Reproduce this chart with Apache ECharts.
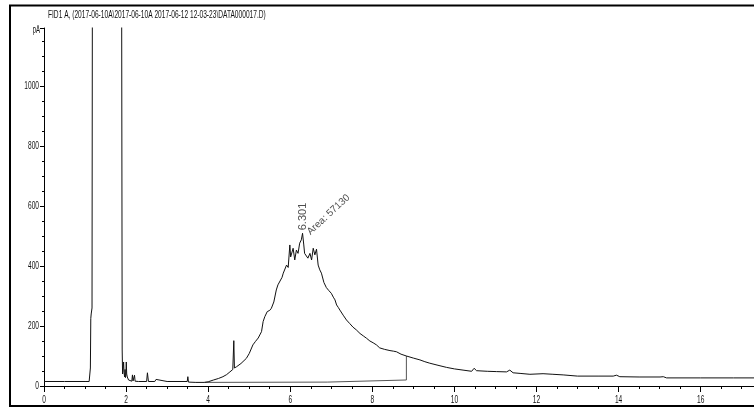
<!DOCTYPE html>
<html>
<head>
<meta charset="utf-8">
<script src="https://cdn.jsdelivr.net/npm/echarts@6/dist/echarts.min.js"></script>
<style>
  html, body { margin: 0; padding: 0; background: #fff; }
  #chart { width: 754px; height: 408px; }
</style>
</head>
<body>
<div id="chart"></div>
<script>
// FID1 A signal trace, retention time (min) vs detector current (pA)
const titleText = 'FID1 A, (2017-06-10A\\2017-06-10A 2017-06-12 12-03-23\\DATA000017.D)';
const yUnit = 'pA';

const times = [
  0.00, 0.50, 1.00, 1.10, 1.12, 1.13, 1.14, 1.15, 1.16, 1.17, 1.18, 1.89, 1.905, 1.915,
  1.93, 1.94, 1.95, 1.965, 1.975, 1.985, 1.995, 2.005, 2.015, 2.03, 2.045, 2.06, 2.08,
  2.14, 2.155, 2.17, 2.19, 2.205, 2.22, 2.30, 2.50, 2.52, 2.545, 2.70, 2.73, 2.76, 3.00,
  3.49, 3.505, 3.52, 3.70, 3.90, 4.00, 4.13, 4.25, 4.36, 4.45, 4.53, 4.60, 4.625, 4.64,
  4.69, 4.80, 4.93, 5.00, 5.09, 5.15, 5.22, 5.30, 5.34, 5.38, 5.44, 5.50, 5.54, 5.60,
  5.66, 5.70, 5.74, 5.80, 5.83, 5.87, 5.91, 5.95, 5.99, 6.01, 6.03, 6.07, 6.11, 6.15,
  6.19, 6.23, 6.27, 6.30, 6.33, 6.35, 6.39, 6.43, 6.48, 6.52, 6.56, 6.60, 6.64, 6.66,
  6.68, 6.72, 6.76, 6.82, 6.88, 6.94, 7.00, 7.05, 7.09, 7.13, 7.17, 7.21, 7.29, 7.33,
  7.37, 7.45, 7.53, 7.57, 7.61, 7.70, 7.78, 7.82, 7.86, 7.94, 8.02, 8.10, 8.18, 8.30,
  8.43, 8.52, 8.59, 8.70, 8.83, 9.00, 9.16, 9.28, 9.40, 9.60, 9.81, 10.00, 10.21, 10.42,
  10.48, 10.54, 10.80, 11.03, 11.27, 11.35, 11.43, 11.60, 11.84, 12.16, 12.40, 12.65,
  12.69, 13.00, 13.50, 13.87, 13.95, 14.03, 14.50, 15.01, 15.09, 15.17, 16.00, 16.80,
  17.30
];
const signal = [
  15, 15, 15, 15, 20, 60, 225, 240, 238, 260, 1500, 1500, 120, 40,
  35, 80, 45, 30, 55, 28, 35, 80, 40, 30, 26, 20, 16,
  16, 37, 17, 18, 36, 16, 15, 15, 44, 15, 15, 22, 16, 15,
  15, 31, 13, 12, 12, 14, 20, 25, 31, 38, 47, 55, 151, 60,
  64, 75, 92, 108, 137, 148, 160, 181, 215, 231, 248, 252, 259, 280,
  320, 337, 342, 362, 376, 380, 403, 395, 470, 430, 431, 459, 420, 453,
  442, 476, 487, 509, 470, 442, 437, 426, 442, 420, 459, 437, 456, 450,
  403, 387, 376, 345, 328, 318, 309, 296, 287, 270, 262, 253, 236, 232,
  220, 208, 196, 193, 187, 175, 167, 164, 159, 150, 144, 137, 127, 122,
  118, 116, 114, 106, 100, 93, 87, 81, 76, 69, 62, 57, 53, 49,
  59, 51, 49, 48, 47, 53, 44, 42, 39, 41, 39, 37,
  33, 33, 33, 33, 36, 31, 30, 30, 31, 27, 27, 27,
  27
];

// integration baseline under the main peak, closed by the drop line at its end
const baseTimes = [3.92, 6.90, 6.91, 8.83, 8.83];
const baseValues = [12, 13, 19, 20, 100];

// peak annotation
const peakRT = 6.301;
const peakHeight = 509;
const peakArea = 57130;

// axis ranges and the tick labels printed on them
const xRange = { min: 0, max: 17.3, major: 2, minor: 0.5 };
const yRange = { min: 0, max: 1193, step: 200 };
const xTickLabels = [0, 2, 4, 6, 8, 10, 12, 14, 16];
const yTickLabels = [0, 200, 400, 600, 800, 1000];

const FONT = '"Liberation Sans", Arial, sans-serif';
const NARROW = 0.6;   // horizontal squeeze of the instrument-style lettering

const chart = echarts.init(document.getElementById('chart'), null, { renderer: 'canvas' });

const timeAxis = (interval, tickLen, showLine) => ({
  type: 'value',
  gridIndex: 0,
  position: 'bottom',
  min: xRange.min, max: xRange.max, interval,
  axisLine: { show: showLine, onZero: false, lineStyle: { color: '#000', width: 1 } },
  axisTick: { show: true, length: tickLen, lineStyle: { color: '#000' } },
  splitLine: { show: false },
  axisLabel: { show: false }
});

chart.setOption({
  animation: false,
  backgroundColor: '#fff',
  grid: { left: 44, right: 0, top: 28, bottom: 22 },
  xAxis: [timeAxis(xRange.major, 6, true), timeAxis(xRange.minor, 3, false)],
  yAxis: {
    type: 'value',
    min: yRange.min, max: yRange.max, interval: yRange.step,
    axisLine: { show: true, lineStyle: { color: '#000', width: 1 } },
    axisTick: { show: true, length: 4, lineStyle: { color: '#000' } },
    minorTick: { show: true, splitNumber: 4, length: 2, lineStyle: { color: '#000' } },
    splitLine: { show: false },
    axisLabel: { show: false }
  },
  series: [
    {
      type: 'line',
      data: times.map((t, i) => [t, signal[i]]),
      symbol: 'none',
      clip: true,
      lineStyle: { color: '#111', width: 1 },
      z: 3
    },
    {
      type: 'line',
      data: baseTimes.map((t, i) => [t, baseValues[i]]),
      symbol: 'none',
      clip: true,
      lineStyle: { color: '#555', width: 1 },
      z: 2
    },
    {
      type: 'scatter',
      data: [[peakRT, peakHeight]],
      symbolSize: 0,
      silent: true,
      label: {
        show: true,
        position: 'top',
        distance: 3,
        rotate: 90,
        align: 'left',
        verticalAlign: 'middle',
        fontFamily: FONT,
        fontSize: 11,
        color: '#222',
        formatter: () => peakRT.toFixed(3)
      },
      z: 4
    },
    {
      type: 'scatter',
      data: [[peakRT, peakHeight]],
      symbolSize: 0,
      silent: true,
      label: {
        show: true,
        position: 'right',
        distance: 6,
        rotate: 43,
        align: 'left',
        verticalAlign: 'middle',
        fontFamily: FONT,
        fontSize: 10,
        color: '#222',
        formatter: () => 'Area: ' + peakArea
      },
      z: 4
    }
  ]
});

// Tick labels, unit and header are set in narrow lettering, placed on the axes' own scales.
const xAxisY = chart.convertToPixel({ yAxisIndex: 0 }, yRange.min);
const yAxisX = chart.convertToPixel({ xAxisIndex: 0 }, xRange.min);
const yTopPx = chart.convertToPixel({ yAxisIndex: 0 }, yRange.max);

const narrowText = (text, x, y, align, size) => ({
  type: 'text', x, y, scaleX: NARROW, silent: true, z: 10,
  style: { text, font: size + 'px ' + FONT, fill: '#111', align, verticalAlign: 'middle' }
});

const graphics = [];
xTickLabels.forEach(v => {
  graphics.push(narrowText(String(v), chart.convertToPixel({ xAxisIndex: 0 }, v), xAxisY + 14, 'center', 11));
});
yTickLabels.forEach(v => {
  graphics.push(narrowText(String(v), yAxisX - 5, chart.convertToPixel({ yAxisIndex: 0 }, v), 'right', 11));
});
graphics.push(narrowText(yUnit, yAxisX - 4, yTopPx + 2, 'right', 10));
graphics.push({
  type: 'text', x: 48, y: 15, scaleX: 0.66, silent: true, z: 10,
  style: { text: titleText, font: '10px ' + FONT, fill: '#111', verticalAlign: 'middle' }
});
graphics.push({
  type: 'rect', silent: true, z: 10,
  shape: { x: 10, y: 5.5, width: 800, height: 400.5 },
  style: { fill: 'none', stroke: '#000', lineWidth: 2 }
});

chart.setOption({ graphic: graphics });
</script>
</body>
</html>
